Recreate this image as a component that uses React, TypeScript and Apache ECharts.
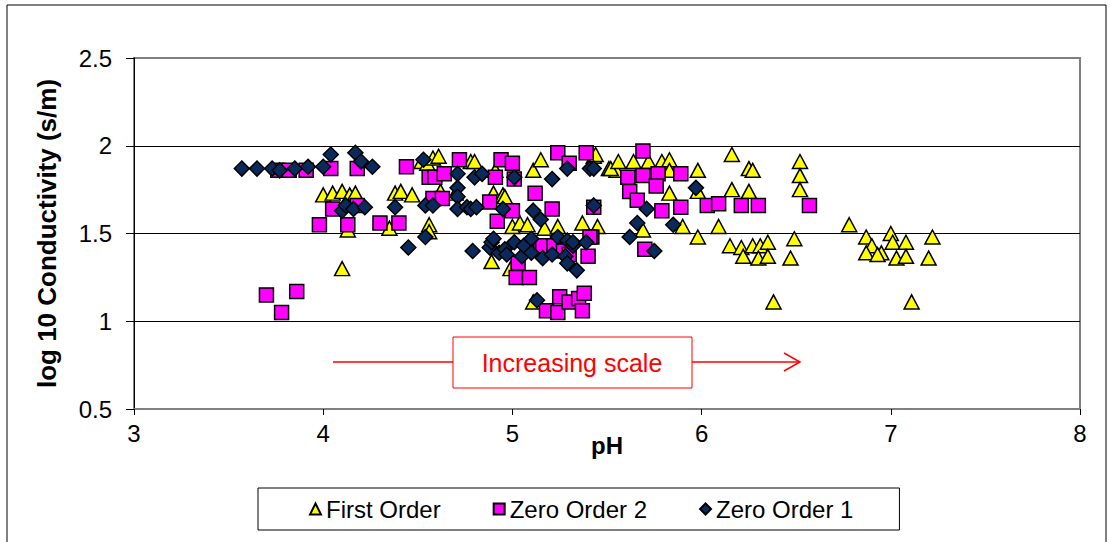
import React, { useEffect, useRef } from "react";
import * as echarts from "echarts";

const seriesNames = ["First Order", "Zero Order 2", "Zero Order 1"];

const firstOrder: [number, number][] = [
  [4.0, 1.72], [4.05, 1.73], [4.1, 1.74], [4.14, 1.72], [4.17, 1.73], [4.1, 1.3], [4.13, 1.52],
  [4.35, 1.53], [4.38, 1.73], [4.41, 1.74], [4.47, 1.72], [4.52, 1.91], [4.55, 1.9], [4.58, 1.93],
  [4.61, 1.94], [4.56, 1.55], [4.56, 1.51], [4.62, 1.74], [4.7, 1.73], [4.78, 1.91], [4.8, 1.91],
  [4.91, 1.86], [4.9, 1.73], [4.95, 1.72], [4.96, 1.71], [4.89, 1.34], [5.0, 1.54], [5.04, 1.56],
  [5.08, 1.55], [4.99, 1.3], [5.11, 1.86], [5.15, 1.92], [5.17, 1.53], [5.24, 1.54], [5.11, 1.11],
  [5.37, 1.56], [5.45, 1.54], [5.43, 1.94], [5.44, 1.95], [5.51, 1.87], [5.55, 1.86], [5.52, 1.87],
  [5.56, 1.91], [5.64, 1.91], [5.69, 1.52], [5.72, 1.91], [5.79, 1.91], [5.83, 1.92], [5.83, 1.86],
  [5.83, 1.73], [5.9, 1.54], [5.98, 1.86], [5.98, 1.74], [5.98, 1.48], [6.09, 1.54], [6.15, 1.43],
  [6.16, 1.95], [6.16, 1.75], [6.21, 1.42], [6.22, 1.37], [6.25, 1.87], [6.27, 1.86], [6.25, 1.74],
  [6.27, 1.43], [6.31, 1.43], [6.3, 1.36], [6.35, 1.45], [6.35, 1.37], [6.38, 1.11], [6.49, 1.47],
  [6.47, 1.36], [6.52, 1.91], [6.52, 1.83], [6.52, 1.75], [6.78, 1.55], [6.87, 1.48], [6.9, 1.43],
  [6.87, 1.39], [6.95, 1.39], [6.93, 1.38], [7.0, 1.5], [7.01, 1.45], [7.03, 1.36], [7.08, 1.45],
  [7.08, 1.37], [7.11, 1.11], [7.2, 1.36], [7.22, 1.48],
];

const zeroOrder2: [number, number][] = [
  [3.7, 1.15], [3.78, 1.05], [3.86, 1.17], [3.76, 1.86], [3.82, 1.86], [3.91, 1.86], [4.04, 1.87],
  [4.18, 1.87], [3.98, 1.55], [4.05, 1.64], [4.13, 1.55], [4.18, 1.66], [4.3, 1.56], [4.4, 1.56],
  [4.44, 1.88], [4.56, 1.82], [4.59, 1.82], [4.64, 1.84], [4.58, 1.7], [4.63, 1.7], [4.72, 1.92],
  [4.88, 1.68], [4.92, 1.57], [4.94, 1.92], [5.0, 1.9], [4.91, 1.82], [5.01, 1.81], [5.0, 1.63],
  [5.12, 1.73], [5.21, 1.64], [5.24, 1.96], [5.3, 1.9], [5.39, 1.96], [5.43, 1.65], [5.42, 1.48],
  [5.15, 1.43], [5.21, 1.42], [5.16, 1.43], [5.22, 1.43], [5.27, 1.4], [5.3, 1.38], [5.03, 1.33],
  [5.02, 1.25], [5.09, 1.25], [5.4, 1.37], [5.18, 1.06], [5.24, 1.05], [5.25, 1.14], [5.3, 1.11],
  [5.35, 1.13], [5.38, 1.16], [5.37, 1.06], [5.61, 1.82], [5.69, 1.83], [5.69, 1.97], [5.77, 1.84],
  [5.89, 1.84], [5.62, 1.74], [5.66, 1.69], [5.76, 1.77], [5.79, 1.63], [5.89, 1.65], [6.03, 1.66],
  [6.09, 1.67], [6.21, 1.66], [6.3, 1.66], [6.57, 1.66], [5.7, 1.41], [5.41, 1.48],
];

const zeroOrder1: [number, number][] = [
  [3.57, 1.87], [3.65, 1.87], [3.73, 1.87], [3.77, 1.86], [3.85, 1.87], [3.92, 1.88], [4.0, 1.88],
  [4.04, 1.95], [4.17, 1.96], [4.2, 1.91], [4.26, 1.88], [4.1, 1.63], [4.12, 1.66], [4.16, 1.64],
  [4.22, 1.65], [4.38, 1.65], [4.45, 1.42], [4.54, 1.48], [4.53, 1.92], [4.54, 1.66], [4.58, 1.66],
  [4.71, 1.84], [4.71, 1.76], [4.71, 1.71], [4.71, 1.64], [4.76, 1.65], [4.78, 1.64], [4.81, 1.65],
  [4.8, 1.82], [4.84, 1.84], [4.95, 1.64], [4.79, 1.4], [4.88, 1.42], [4.89, 1.45], [4.9, 1.47],
  [4.93, 1.39], [4.96, 1.41], [4.97, 1.38], [5.01, 1.45], [5.01, 1.82], [5.05, 1.37], [5.06, 1.43],
  [5.1, 1.47], [5.1, 1.39], [5.11, 1.63], [5.15, 1.58], [5.16, 1.36], [5.21, 1.81], [5.21, 1.38],
  [5.24, 1.48], [5.28, 1.37], [5.29, 1.46], [5.29, 1.87], [5.29, 1.33], [5.32, 1.43], [5.32, 1.45],
  [5.34, 1.29], [5.39, 1.45], [5.41, 1.87], [5.43, 1.87], [5.43, 1.66], [5.13, 1.12], [5.62, 1.48],
  [5.66, 1.56], [5.71, 1.64], [5.75, 1.4], [5.85, 1.55], [5.97, 1.76],
];

const xAxisTitle = "pH";
const yAxisTitle = "log 10 Conductivity (s/m)";
const annotationText = "Increasing scale";

const FONT = "'Liberation Sans', Arial, sans-serif";

export default function App() {
  const ref = useRef<HTMLDivElement>(null);
  useEffect(() => {
    if (!ref.current) return;
    const chart = echarts.init(ref.current, undefined, { renderer: "svg" });
    const markerBorder = { borderColor: "#000", borderWidth: 1.5, opacity: 1 };
    chart.setOption({
      animation: false,
      backgroundColor: "#fff",
      textStyle: { fontFamily: FONT },
      grid: {
        left: 134, right: 30, top: 58, bottom: 133,
        show: true, borderColor: "#808080", borderWidth: 2, backgroundColor: "transparent",
      },
      xAxis: {
        type: "value", min: 3, max: 8, interval: 1,
        name: xAxisTitle, nameLocation: "middle", nameGap: 24, nameMoveOverlap: false,
        nameTextStyle: { fontFamily: FONT, fontSize: 24, fontWeight: "bold", color: "#000" },
        axisLine: { show: true, lineStyle: { color: "#808080", width: 2 } },
        axisTick: { show: true, length: 6, lineStyle: { color: "#000" } },
        axisLabel: { fontFamily: FONT, fontSize: 24, color: "#000", margin: 12 },
        splitLine: { show: false },
      },
      yAxis: {
        type: "value", min: 0.5, max: 2.5, interval: 0.5,
        name: yAxisTitle, nameLocation: "middle", nameGap: 74, nameRotate: 90, nameMoveOverlap: false,
        nameTextStyle: { fontFamily: FONT, fontSize: 26, fontWeight: "bold", color: "#000" },
        axisLine: { show: true, lineStyle: { color: "#000", width: 1 } },
        axisTick: { show: true, length: 8, lineStyle: { color: "#000" } },
        axisLabel: { fontFamily: FONT, fontSize: 24, color: "#000", margin: 22 },
        splitLine: { show: true, lineStyle: { color: ["#808080", "#000", "#000", "#000", "#808080"], width: 1 } },
      },
      legend: {
        left: 258, top: 488,
        padding: [9, 46, 9, 51],
        itemGap: 52, itemWidth: 11, itemHeight: 11,
        borderColor: "#000", borderWidth: 1,
        textStyle: { fontFamily: FONT, fontSize: 24, color: "#000" },
        data: seriesNames,
      },
      series: [
        {
          name: seriesNames[0], type: "scatter", symbol: "triangle", symbolSize: [15, 14],
          itemStyle: { color: "#FFFF00", ...markerBorder }, data: firstOrder, z: 2,
        },
        {
          name: seriesNames[1], type: "scatter", symbol: "rect", symbolSize: 14,
          itemStyle: { color: "#FF00FF", ...markerBorder }, data: zeroOrder2, z: 3,
        },
        {
          name: seriesNames[2], type: "scatter", symbol: "diamond", symbolSize: 15,
          itemStyle: { color: "#0B2A5C", ...markerBorder }, data: zeroOrder1, z: 4,
        },
      ],
      graphic: [
        {
          type: "rect", shape: { x: 7, y: 5, width: 1099, height: 600 },
          style: { fill: "none", stroke: "#000", lineWidth: 1 }, z: -10, silent: true,
        },
        {
          type: "line", shape: { x1: 333, y1: 362, x2: 800, y2: 362 },
          style: { stroke: "#FF0000", lineWidth: 1.5 }, z: 10,
        },
        {
          type: "polyline", shape: { points: [[784, 353], [800, 362], [784, 371]] },
          style: { stroke: "#FF0000", lineWidth: 1.5, fill: "none" }, z: 10,
        },
        {
          type: "rect", shape: { x: 453, y: 337, width: 239, height: 51 },
          style: { fill: "#fff", stroke: "#FF0000", lineWidth: 1 }, z: 11,
        },
        {
          type: "text", x: 572, y: 363,
          style: {
            text: annotationText, fill: "#FF0000", fontFamily: FONT, fontSize: 25,
            align: "center", verticalAlign: "middle",
          },
          z: 12,
        },
      ],
    });
    return () => chart.dispose();
  }, []);
  return (
    <div
      ref={ref}
      style={{ position: "absolute", left: 0, top: 0, width: 1110, height: 542 }}
    />
  );
}
